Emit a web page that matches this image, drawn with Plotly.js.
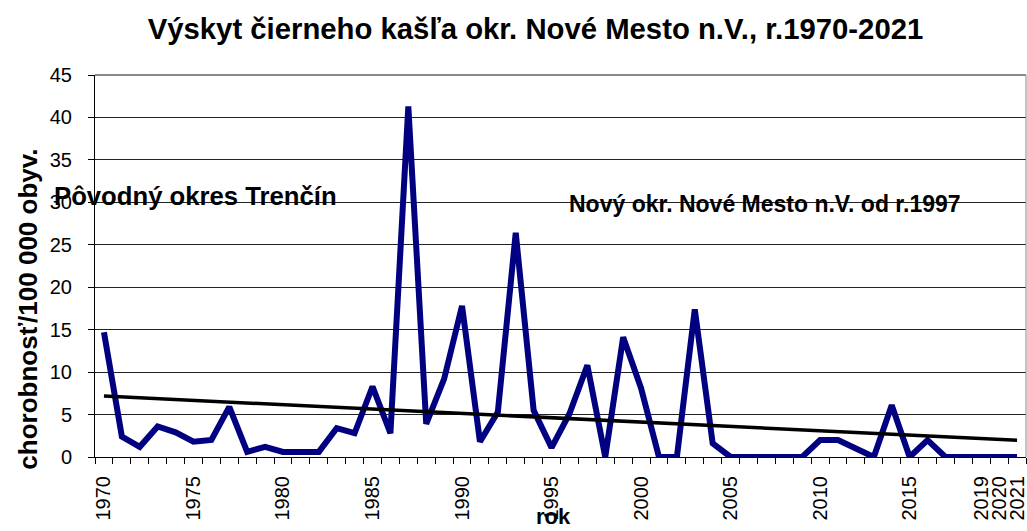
<!DOCTYPE html>
<html>
<head>
<meta charset="utf-8">
<script src="https://cdn.plot.ly/plotly-3.0.1.min.js"></script>
<style>html,body{margin:0;padding:0;background:#fff;}#chart{width:1027px;height:531px;}</style>
</head>
<body>
<div id="chart"></div>
<script>
const years = [];
for (let y = 1970; y <= 2021; y++) years.push(y);
const incidence = [
  14.7, 2.4, 1.2, 3.6, 2.9, 1.8, 2.0, 5.9, 0.6, 1.2,
  0.6, 0.6, 0.6, 3.4, 2.8, 8.3, 2.8, 41.3, 3.9, 9.2,
  17.8, 1.8, 5.3, 26.4, 5.5, 1.1, 5.1, 10.8, 0.0, 14.1,
  8.1, 0.0, 0.0, 17.4, 1.6, 0.0, 0.0, 0.0, 0.0, 0.0,
  2.0, 2.0, 1.0, 0.0, 6.1, 0.0, 2.0, 0.0, 0.0, 0.0,
  0.0, 0.0
];
const tickYears = [1970, 1975, 1980, 1985, 1990, 1995, 2000, 2005, 2010, 2015, 2019, 2020, 2021];

// linear trendline (least squares) from the data, as in the original spreadsheet
const n = years.length;
const mx = years.reduce((a, b) => a + b, 0) / n;
const my = incidence.reduce((a, b) => a + b, 0) / n;
let sxy = 0, sxx = 0;
for (let i = 0; i < n; i++) { sxy += (years[i] - mx) * (incidence[i] - my); sxx += (years[i] - mx) ** 2; }
const slope = sxy / sxx;
const trend = years.map(y => my + slope * (y - mx));

const F = 'Liberation Sans, Arial, sans-serif';

const data = [
  { x: years, y: incidence, type: 'scatter', mode: 'lines',
    line: { color: '#000080', width: 6 }, showlegend: false },
  { x: [years[0], years[n - 1]], y: [trend[0], trend[n - 1]], type: 'scatter', mode: 'lines',
    line: { color: '#000000', width: 3.5 }, showlegend: false }
];

const layout = {
  width: 1027, height: 531,
  margin: { l: 95, r: 1, t: 75, b: 74 },
  paper_bgcolor: '#fff', plot_bgcolor: '#fff',
  font: { family: F, color: '#000' },
  title: { text: '<b>Výskyt čierneho kašľa okr. Nové Mesto n.V., r.1970-2021</b>',
    font: { family: F, size: 29.3, color: '#000' }, x: 0.5214, xanchor: 'center', y: 0.945, yanchor: 'middle' },
  xaxis: {
    range: [1969.5, 2021.5], tickmode: 'array', tickvals: tickYears, ticktext: tickYears.map(String),
    tickangle: -90, ticks: '', tickfont: { family: F, size: 20, color: '#000' }, ticklabelstandoff: 10,
    ticklabeloverflow: 'allow',
    showgrid: false, zeroline: false, showline: true, linecolor: '#000', linewidth: 1,
    minor: { tick0: 1969.5, dtick: 1, ticks: 'outside', ticklen: 6, tickcolor: '#000', tickwidth: 1, showgrid: false },
    fixedrange: true
  },
  yaxis: {
    range: [0, 45], dtick: 5, tick0: 0, ticks: 'outside', ticklen: 6, tickcolor: '#000',
    tickfont: { family: F, size: 20, color: '#000' }, ticklabelstandoff: 12,
    showgrid: true, gridcolor: '#222', gridwidth: 1, zeroline: false,
    showline: true, linecolor: '#000', linewidth: 1, fixedrange: true
  },
  shapes: [
    { type: 'line', xref: 'paper', yref: 'paper', x0: 1, x1: 1, y0: 0, y1: 1, line: { color: '#888', width: 1 } },
    { type: 'line', xref: 'paper', yref: 'paper', x0: 0, x1: 1, y0: 1, y1: 1, line: { color: '#888', width: 2 } }
  ],
  annotations: [
    { text: '<b>Pôvodný okres Trenčín</b>', x: 1975.14, y: 30.7, xref: 'x', yref: 'y', showarrow: false,
      font: { family: F, size: 25.7, color: '#000' }, xanchor: 'center', yanchor: 'middle' },
    { text: '<b>Nový okr. Nové Mesto n.V. od r.1997</b>', x: 2006.9, y: 29.8, xref: 'x', yref: 'y', showarrow: false,
      font: { family: F, size: 23, color: '#000' }, xanchor: 'center', yanchor: 'middle' },
    { text: '<b>chorobnosť/100 000 obyv.</b>', textangle: -90, xref: 'paper', yref: 'paper',
      x: -0.0714, y: 0.387, showarrow: false, xanchor: 'center', yanchor: 'middle',
      font: { family: F, size: 26, color: '#000' } },
    { text: '<b>rok</b>', xref: 'paper', yref: 'paper', x: 0.492, y: -0.1937, showarrow: false,
      xanchor: 'center', yanchor: 'bottom', font: { family: F, size: 22, color: '#000' } }
  ]
};

Plotly.newPlot('chart', data, layout, { displayModeBar: false, staticPlot: true });
</script>
</body>
</html>
